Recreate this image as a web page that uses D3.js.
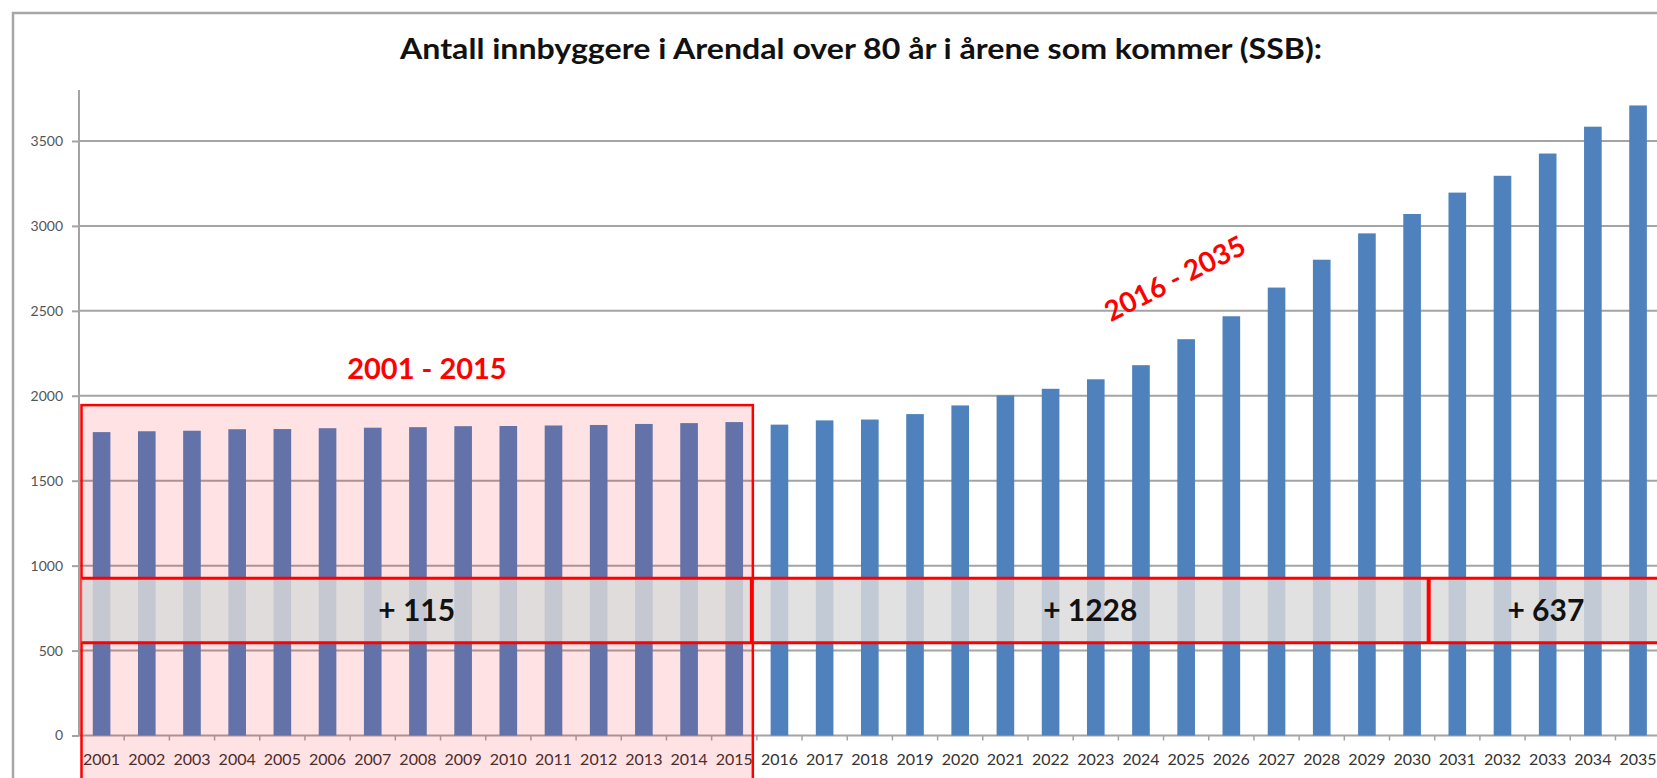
<!DOCTYPE html>
<html>
<head>
<meta charset="utf-8">
<script src="https://cdn.jsdelivr.net/npm/d3@7/dist/d3.min.js"></script>
<style>
  html, body { margin: 0; padding: 0; background: #ffffff; overflow: hidden; }
  svg { display: block; }
</style>
</head>
<body>
<svg id="chart" width="1657" height="778"></svg>
<script>
// ---- Data ----
const years = ["2001","2002","2003","2004","2005","2006","2007","2008","2009","2010",
               "2011","2012","2013","2014","2015","2016","2017","2018","2019","2020",
               "2021","2022","2023","2024","2025","2026","2027","2028","2029","2030",
               "2031","2032","2033","2034","2035"];
const values = [1786,1791,1794,1803,1804,1809,1812,1815,1821,1822,
                1825,1828,1834,1839,1845,1830,1855,1860,1892,1943,
                2002,2041,2097,2180,2333,2468,2637,2801,2956,3070,
                3196,3295,3426,3584,3709];
const yTicks = [0, 500, 1000, 1500, 2000, 2500, 3000, 3500];
const title = "Antall innbyggere i Arendal over 80 år i årene som kommer (SSB):";

// annotation content
const periodLabels = ["2001 - 2015", "2016 - 2035"];
const bandStarts = ["2001", "2016", "2031"];
const bandLabels = ["+ 115", "+ 1228", "+ 637"];
const bandRange = [546, 925];      // value range of the grey band
const pinkTop = 1945;              // value of the top of the highlighted box

// ---- Layout ----
const W = 1657, H = 778;
const left = 79, step = 45.19;
const svg = d3.select("#chart");

const x = d3.scaleBand().domain(years)
  .range([left, left + step * years.length])
  .paddingInner(0.61).paddingOuter(0.305);
const y = d3.scaleLinear().domain([0, 3800]).range([735.5, 90]);
const slotStart = c => x(c) - x.step() * x.paddingInner() / 2;

// outer chart border
svg.append("rect").attr("x", 13).attr("y", 13)
  .attr("width", W + 20).attr("height", H + 20)
  .attr("fill", "#ffffff").attr("stroke", "#a6a6a6").attr("stroke-width", 2.5);

// title
svg.append("text").attr("x", 861).attr("y", 59)
  .attr("text-anchor", "middle")
  .attr("font-family", "Lato, 'Open Sans', sans-serif")
  .attr("font-weight", "bold").attr("font-size", 29).attr("fill", "#111")
  .attr("textLength", 922).attr("lengthAdjust", "spacingAndGlyphs")
  .text(title);

// gridlines
svg.append("g").selectAll("line").data(yTicks.filter(d => d > 0)).join("line")
  .attr("x1", left).attr("x2", W + 10)
  .attr("y1", d => y(d)).attr("y2", d => y(d))
  .attr("stroke", "#a4a4a4").attr("stroke-width", 2);

// y axis
const yAxis = svg.append("g").attr("transform", `translate(${left},0)`)
  .call(d3.axisLeft(y).tickValues(yTicks).tickFormat(d3.format("d"))
    .tickSize(7).tickPadding(9));
yAxis.select(".domain").remove();
yAxis.selectAll(".tick line").attr("stroke", "#a4a4a4").attr("stroke-width", 2);
yAxis.selectAll(".tick text").attr("font-family", "Lato, sans-serif")
  .attr("font-size", 14).attr("fill", "#555");
svg.append("line").attr("x1", left).attr("x2", left)
  .attr("y1", y(3800)).attr("y2", y(0))
  .attr("stroke", "#a4a4a4").attr("stroke-width", 2);

// x axis line and boundary ticks
svg.append("line").attr("x1", left).attr("x2", W + 10)
  .attr("y1", y(0)).attr("y2", y(0))
  .attr("stroke", "#a4a4a4").attr("stroke-width", 2);
svg.append("g").selectAll("line").data(years.slice(1)).join("line")
  .attr("x1", d => slotStart(d)).attr("x2", d => slotStart(d))
  .attr("y1", y(0)).attr("y2", y(0) + 5)
  .attr("stroke", "#a4a4a4").attr("stroke-width", 1.5);

// bars
svg.append("g").selectAll("rect").data(years).join("rect")
  .attr("x", d => x(d)).attr("width", x.bandwidth())
  .attr("y", (d, i) => y(values[i]))
  .attr("height", (d, i) => y(0) - y(values[i]))
  .attr("fill", "#4f81bd");

// x labels
const xAxis = svg.append("g").attr("transform", `translate(0,${y(0)})`)
  .call(d3.axisBottom(x).tickSize(0).tickPadding(18));
xAxis.select(".domain").remove();
xAxis.selectAll(".tick text").attr("font-family", "Lato, sans-serif")
  .attr("font-size", 16).attr("fill", "#333");

// highlighted period box (2001-2015)
const pinkL = slotStart(bandStarts[0]) + 2.5;
const pinkR = slotStart(bandStarts[1]) - 4;
svg.append("rect").attr("x", pinkL).attr("y", y(pinkTop))
  .attr("width", pinkR - pinkL).attr("height", H + 30 - y(pinkTop))
  .attr("fill", "rgba(255,0,8,0.115)")
  .attr("stroke", "#ff0000").attr("stroke-width", 2.5);

// grey band with growth figures
const segX = [pinkL, slotStart(bandStarts[1]) - 5, slotStart(bandStarts[2]) - 6, W + 20];
svg.append("rect").attr("x", pinkL).attr("y", y(bandRange[1]))
  .attr("width", W + 20 - pinkL).attr("height", y(bandRange[0]) - y(bandRange[1]))
  .attr("fill", "#dadada").attr("fill-opacity", 0.82);
[bandRange[0], bandRange[1]].forEach(v => {
  svg.append("line").attr("x1", pinkL).attr("x2", W + 20)
    .attr("y1", y(v)).attr("y2", y(v))
    .attr("stroke", "#ff0000").attr("stroke-width", 3);
});
[segX[1], segX[2]].forEach(xx => {
  svg.append("line").attr("x1", xx).attr("x2", xx)
    .attr("y1", y(bandRange[1])).attr("y2", y(bandRange[0]))
    .attr("stroke", "#ff0000").attr("stroke-width", 4);
});
svg.append("g").selectAll("text").data(bandLabels).join("text")
  .attr("x", (d, i) => (segX[i] + segX[i + 1]) / 2 + (i === 2 ? -7 : 0))
  .attr("y", (y(bandRange[0]) + y(bandRange[1])) / 2)
  .attr("dy", "0.35em").attr("text-anchor", "middle")
  .attr("font-family", "Lato, sans-serif").attr("font-weight", "bold")
  .attr("font-size", 30).attr("fill", "#111")
  .text(d => d);

// period labels
svg.append("text")
  .attr("x", x("2008") + x.bandwidth() / 2 + step * 0.2).attr("y", y(2100))
  .attr("text-anchor", "middle")
  .attr("font-family", "Lato, sans-serif").attr("font-weight", "bold")
  .attr("font-size", 29).attr("fill", "#ff0000")
  .text(periodLabels[0]);
const px = x("2024") + x.bandwidth() / 2 + step * 0.75, py = y(2690);
svg.append("text")
  .attr("transform", `translate(${px},${py}) rotate(-27)`)
  .attr("dy", "0.35em").attr("text-anchor", "middle")
  .attr("font-family", "Lato, sans-serif").attr("font-weight", "bold")
  .attr("font-size", 28).attr("fill", "#ff0000")
  .text(periodLabels[1]);
</script>
</body>
</html>
